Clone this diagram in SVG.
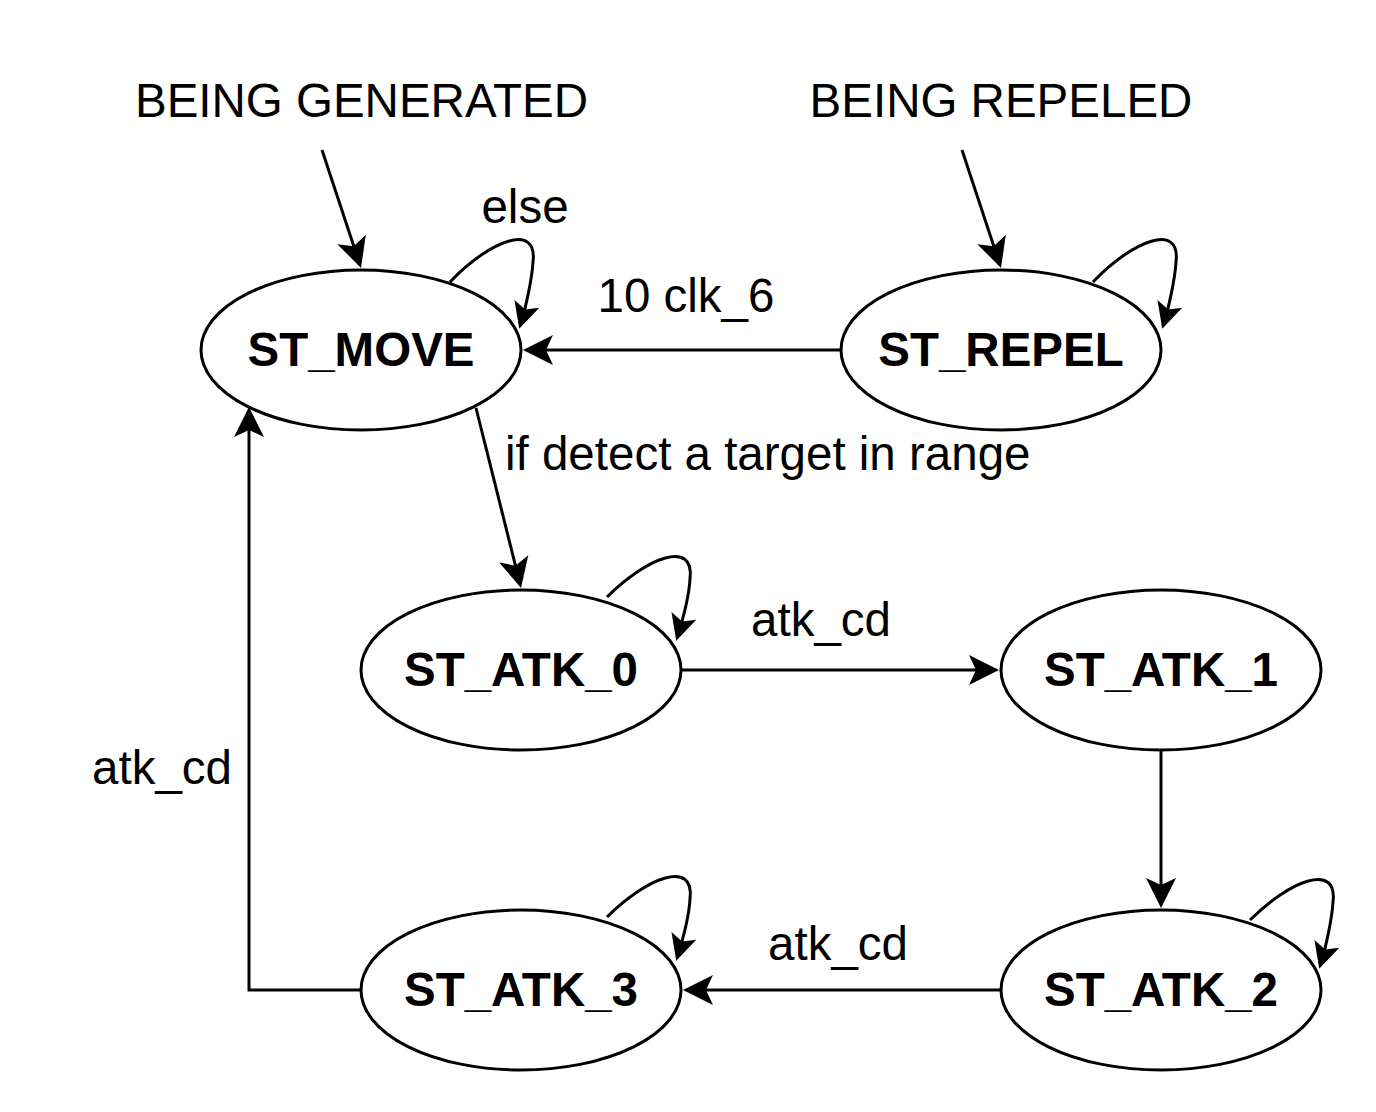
<svg xmlns="http://www.w3.org/2000/svg" width="1376" height="1112" viewBox="0 0 1376 1112">
<style>
.node ellipse{fill:#fff;stroke:#000;stroke-width:3}
.node text{font-family:"Liberation Sans",Arial,sans-serif;font-weight:bold;font-size:47.5px;text-anchor:middle;fill:#000}
.lbl{font-family:"Liberation Sans",Arial,sans-serif;font-size:47.5px;fill:#000}
.e{fill:none;stroke:#000;stroke-width:3}
.a{marker-end:url(#arr)}
.l{marker-end:url(#arrS)}
</style>
<defs>
<marker id="arr" markerUnits="userSpaceOnUse" viewBox="-25 -18 36 36" markerWidth="36" markerHeight="36" refX="0" refY="0" orient="auto">
<path d="M8,0 L-22,-15 L-15,0 L-22,15 Z" fill="#000"/>
</marker>
<marker id="arrS" markerUnits="userSpaceOnUse" viewBox="-25 -18 36 36" markerWidth="36" markerHeight="36" refX="0" refY="0" orient="auto">
<path d="M6,0 L-20,-13 L-14,0 L-20,13 Z" fill="#000"/>
</marker>
</defs>
<g id="connectors">
<line class="e a" x1="322" y1="150" x2="358.5" y2="260.4"/>
<line class="e a" x1="962" y1="150" x2="998.5" y2="260.4"/>
<line class="e a" x1="841" y1="350" x2="531" y2="350"/>
<line class="e a" x1="476" y1="408" x2="519.1" y2="580.2"/>
<line class="e a" x1="681" y1="670" x2="991" y2="670"/>
<line class="e a" x1="1161" y1="750" x2="1161" y2="900"/>
<line class="e a" x1="1001" y1="990" x2="691" y2="990"/>
<polyline class="e a" points="361,990 249,990 249,415"/>
<path class="e l" transform="translate(361,350)" d="M89,-68 C129,-110 177,-128 172,-88 C171,-70 164,-40 160,-27"/>
<path class="e l" transform="translate(1004,350)" d="M89,-68 C129,-110 177,-128 172,-88 C171,-70 164,-40 160,-27"/>
<path class="e l" transform="translate(518,670)" d="M89,-73 C129,-113 177,-131 172,-91 C171,-73 164,-48 160,-35"/>
<path class="e l" transform="translate(1161,990)" d="M89,-70 C129,-110 177,-128 172,-88 C171,-70 164,-40 160,-27"/>
<path class="e l" transform="translate(518,990)" d="M89,-73 C129,-113 177,-131 172,-91 C171,-73 164,-48 160,-35"/>
</g>
<g id="labels">
<text class="lbl" x="361.5" y="117" text-anchor="middle">BEING GENERATED</text>
<text class="lbl" x="1001" y="117" text-anchor="middle">BEING REPELED</text>
<text class="lbl" x="525" y="223" text-anchor="middle">else</text>
<text class="lbl" x="686" y="312" text-anchor="middle">10 clk_6</text>
<text class="lbl" x="505" y="470">if detect a target in range</text>
<text class="lbl" x="821" y="636" text-anchor="middle">atk_cd</text>
<text class="lbl" x="162" y="784" text-anchor="middle">atk_cd</text>
<text class="lbl" x="838" y="960" text-anchor="middle">atk_cd</text>
</g>
<g id="ST_MOVE" class="node"><ellipse cx="361" cy="350" rx="160" ry="80"/><text x="361" y="366">ST_MOVE</text></g>
<g id="ST_REPEL" class="node"><ellipse cx="1001" cy="350" rx="160" ry="80"/><text x="1001" y="366">ST_REPEL</text></g>
<g id="ST_ATK_0" class="node"><ellipse cx="521" cy="670" rx="160" ry="80"/><text x="521" y="686">ST_ATK_0</text></g>
<g id="ST_ATK_1" class="node"><ellipse cx="1161" cy="670" rx="160" ry="80"/><text x="1161" y="686">ST_ATK_1</text></g>
<g id="ST_ATK_2" class="node"><ellipse cx="1161" cy="990" rx="160" ry="80"/><text x="1161" y="1006">ST_ATK_2</text></g>
<g id="ST_ATK_3" class="node"><ellipse cx="521" cy="990" rx="160" ry="80"/><text x="521" y="1006">ST_ATK_3</text></g>
</svg>
